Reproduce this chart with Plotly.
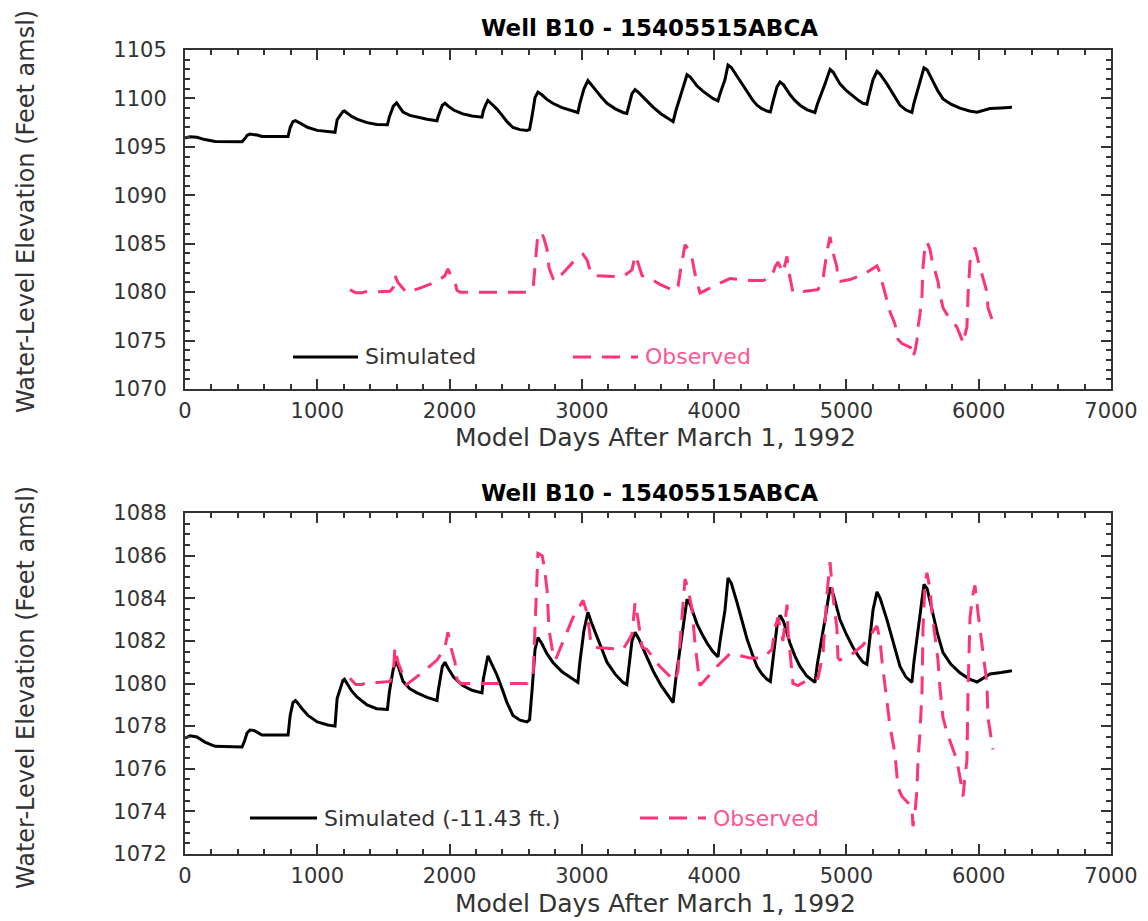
import plotly.graph_objects as go

# ---------------- data ----------------
# Simulated water level, model output (feet above mean sea level)
sim_days = [0, 40, 90, 150, 227, 431, 450, 469, 491, 520,
            544, 582, 779, 795, 816, 835, 850, 880, 930, 1000,
            1080, 1134, 1150, 1194, 1205, 1225, 1260, 1300, 1376, 1450,
            1530, 1545, 1575, 1600, 1620, 1648, 1700, 1754, 1830, 1905,
            1915, 1945, 1965, 1990, 2030, 2100, 2170, 2245, 2255, 2275,
            2290, 2320, 2358, 2400, 2434, 2479, 2532, 2585, 2605, 2625,
            2646, 2668, 2695, 2736, 2780, 2850, 2920, 2970, 2985, 3016,
            3046, 3070, 3114, 3150, 3190, 3250, 3311, 3340, 3355, 3379,
            3402, 3430, 3480, 3538, 3600, 3666, 3690, 3710, 3765, 3795,
            3820, 3870, 3910, 3946, 3990, 4029, 4045, 4082, 4105, 4130,
            4173, 4210, 4248, 4290, 4324, 4360, 4399, 4425, 4445, 4475,
            4498, 4525, 4573, 4610, 4649, 4700, 4762, 4780, 4838, 4876,
            4900, 4951, 5000, 5049, 5090, 5125, 5155, 5170, 5201, 5231,
            5255, 5306, 5350, 5405, 5450, 5495, 5510, 5541, 5586, 5610,
            5654, 5690, 5730, 5790, 5858, 5930, 5987, 6030, 6085, 6170,
            6251]

sim_elev = [1095.94, 1096.05, 1095.99, 1095.75, 1095.55, 1095.52, 1095.80, 1096.18, 1096.32, 1096.30,
            1096.22, 1096.08, 1096.08, 1097.00, 1097.60, 1097.70, 1097.60, 1097.35, 1097.00, 1096.70,
            1096.55, 1096.50, 1097.80, 1098.65, 1098.70, 1098.50, 1098.15, 1097.87, 1097.50, 1097.32,
            1097.28, 1098.10, 1099.20, 1099.55, 1099.10, 1098.60, 1098.25, 1098.06, 1097.85, 1097.70,
            1098.20, 1099.30, 1099.50, 1099.20, 1098.80, 1098.40, 1098.18, 1098.06, 1098.70, 1099.40,
            1099.80, 1099.40, 1098.90, 1098.20, 1097.60, 1097.00, 1096.78, 1096.70, 1096.80, 1098.30,
            1100.10, 1100.65, 1100.40, 1099.90, 1099.50, 1099.05, 1098.75, 1098.55, 1099.50, 1101.00,
            1101.85, 1101.40, 1100.70, 1100.10, 1099.50, 1098.95, 1098.55, 1098.45, 1099.30, 1100.50,
            1100.90, 1100.60, 1099.90, 1099.10, 1098.40, 1097.80, 1097.60, 1098.70, 1101.20, 1102.45,
            1102.20, 1101.30, 1100.80, 1100.40, 1100.00, 1099.75, 1100.50, 1101.95, 1103.45, 1103.20,
            1102.30, 1101.40, 1100.60, 1099.85, 1099.30, 1098.95, 1098.70, 1098.60, 1099.70, 1101.20,
            1101.70, 1101.40, 1100.40, 1099.80, 1099.30, 1098.85, 1098.55, 1099.40, 1101.50, 1103.00,
            1102.70, 1101.50, 1100.80, 1100.20, 1099.80, 1099.50, 1099.40, 1100.30, 1101.95, 1102.80,
            1102.50, 1101.50, 1100.50, 1099.30, 1098.80, 1098.55, 1099.50, 1101.00, 1103.15, 1102.95,
            1101.80, 1100.80, 1099.95, 1099.40, 1099.00, 1098.70, 1098.57, 1098.75, 1098.95, 1099.02,
            1099.10]

# Simulated water level after the datum adjustment shown in the lower panel
sim_adj_elev = [1077.44, 1077.55, 1077.49, 1077.25, 1077.05, 1077.02, 1077.30, 1077.68, 1077.82, 1077.80,
                1077.72, 1077.58, 1077.58, 1078.50, 1079.10, 1079.20, 1079.10, 1078.85, 1078.50, 1078.20,
                1078.05, 1078.00, 1079.30, 1080.15, 1080.20, 1080.00, 1079.65, 1079.37, 1079.00, 1078.82,
                1078.78, 1079.60, 1080.70, 1081.05, 1080.60, 1080.10, 1079.75, 1079.56, 1079.35, 1079.20,
                1079.70, 1080.80, 1081.00, 1080.70, 1080.30, 1079.90, 1079.68, 1079.56, 1080.20, 1080.90,
                1081.30, 1080.90, 1080.40, 1079.70, 1079.10, 1078.50, 1078.28, 1078.20, 1078.30, 1079.80,
                1081.60, 1082.15, 1081.90, 1081.40, 1081.00, 1080.55, 1080.25, 1080.05, 1081.00, 1082.50,
                1083.35, 1082.90, 1082.20, 1081.60, 1081.00, 1080.45, 1080.05, 1079.95, 1080.80, 1082.00,
                1082.40, 1082.10, 1081.40, 1080.60, 1079.90, 1079.30, 1079.10, 1080.20, 1082.70, 1083.95,
                1083.70, 1082.80, 1082.30, 1081.90, 1081.50, 1081.25, 1082.00, 1083.45, 1084.95, 1084.70,
                1083.80, 1082.90, 1082.10, 1081.35, 1080.80, 1080.45, 1080.20, 1080.10, 1081.20, 1082.70,
                1083.20, 1082.90, 1081.90, 1081.30, 1080.80, 1080.35, 1080.05, 1080.90, 1083.00, 1084.50,
                1084.20, 1083.00, 1082.30, 1081.70, 1081.30, 1081.00, 1080.90, 1081.80, 1083.45, 1084.30,
                1084.00, 1083.00, 1082.00, 1080.80, 1080.30, 1080.05, 1081.00, 1082.50, 1084.65, 1084.45,
                1083.30, 1082.30, 1081.45, 1080.90, 1080.50, 1080.20, 1080.07, 1080.25, 1080.45, 1080.52,
                1080.60]

# Observed water level in the well
obs_days = [1247, 1290, 1340, 1365, 1459, 1550, 1575, 1587, 1610, 1663, 1675, 1791,
            1905, 1965, 1988, 2010, 2041, 2056, 2080, 2479, 2585, 2631, 2650, 2668,
            2700, 2715, 2737, 2752, 2782, 2800, 2933, 3009, 3040, 3069, 3084, 3311,
            3379, 3402, 3425, 3455, 3492, 3590, 3704, 3727, 3750, 3765, 3780, 3800,
            3833, 3855, 3878, 3893, 4021, 4120, 4196, 4271, 4369, 4437, 4460, 4483,
            4520, 4551, 4558, 4573, 4596, 4634, 4687, 4785, 4823, 4853, 4876, 4898,
            4928, 4936, 4951, 5027, 5125, 5231, 5254, 5270, 5306, 5329, 5367, 5390,
            5420, 5495, 5503, 5518, 5533, 5541, 5556, 5571, 5579, 5594, 5609, 5632,
            5647, 5669, 5692, 5707, 5730, 5760, 5798, 5835, 5873, 5881, 5896, 5911,
            5919, 5934, 5957, 5972, 5995, 6025, 6062, 6070, 6108]

obs_elev = [1080.25, 1079.95, 1079.95, 1080.05, 1080.05, 1080.10, 1080.50, 1081.70,
            1081.00, 1080.10, 1079.95, 1080.50, 1081.10, 1081.70, 1082.40, 1081.70,
            1081.00, 1080.20, 1080.00, 1080.00, 1080.00, 1080.30, 1083.00, 1086.10,
            1086.00, 1085.50, 1084.40, 1082.50, 1081.40, 1081.10, 1083.10, 1083.90,
            1083.30, 1081.90, 1081.70, 1081.60, 1082.30, 1083.80, 1083.00, 1081.70,
            1081.60, 1080.80, 1080.10, 1080.60, 1082.60, 1083.80, 1084.90, 1084.50,
            1083.50, 1081.90, 1080.80, 1079.90, 1080.80, 1081.40, 1081.30, 1081.20,
            1081.20, 1081.60, 1082.60, 1083.10, 1082.00, 1083.70, 1082.50, 1081.60,
            1080.00, 1079.90, 1080.10, 1080.25, 1081.40, 1084.20, 1085.70, 1084.10,
            1082.60, 1081.20, 1081.10, 1081.30, 1081.80, 1082.70, 1082.00, 1081.00,
            1079.20, 1078.00, 1076.70, 1075.10, 1074.70, 1074.20, 1073.30, 1073.90,
            1075.00, 1076.40, 1077.70, 1079.60, 1082.60, 1084.70, 1085.20, 1084.40,
            1083.30, 1082.20, 1081.10, 1079.80, 1078.40, 1077.70, 1077.00, 1076.40,
            1075.10, 1074.70, 1075.60, 1076.40, 1079.60, 1083.10, 1084.20, 1084.60,
            1083.30, 1081.70, 1080.00, 1078.40, 1076.90]

panel_title = "Well B10 - 15405515ABCA"
x_title = "Model Days After March 1, 1992"
y_title = "Water-Level Elevation (Feet amsl)"
sim_label_top = "Simulated"
sim_label_bottom = "Simulated (-11.43 ft.)"
obs_label = "Observed"

# ---------------- styling ----------------
W, H = 1148, 921
FONT = "DejaVu Sans"
SIM_COLOR = "black"
OBS_COLOR = "#ff3377"
OBS_TEXT = "#ff5591"
AXIS_COLOR = "#333333"
DASH = "18px,11px"


def fx(px):
    return px / W


def fy(px):
    return 1 - px / H


fig = go.Figure()

fig.add_trace(go.Scatter(x=sim_days, y=sim_elev, mode="lines",
                         line=dict(color=SIM_COLOR, width=3),
                         xaxis="x", yaxis="y", showlegend=False))
fig.add_trace(go.Scatter(x=obs_days, y=obs_elev, mode="lines",
                         line=dict(color=OBS_COLOR, width=3, dash=DASH),
                         xaxis="x", yaxis="y", showlegend=False))
fig.add_trace(go.Scatter(x=sim_days, y=sim_adj_elev, mode="lines",
                         line=dict(color=SIM_COLOR, width=3),
                         xaxis="x2", yaxis="y2", showlegend=False))
fig.add_trace(go.Scatter(x=obs_days, y=obs_elev, mode="lines",
                         line=dict(color=OBS_COLOR, width=3, dash=DASH),
                         xaxis="x2", yaxis="y2", showlegend=False))

tick_font = dict(family=FONT, size=21, color=AXIS_COLOR)
common_axis = dict(showline=True, linecolor=AXIS_COLOR, linewidth=2,
                   mirror="allticks", ticks="inside", ticklen=10, tickwidth=1.5,
                   tickcolor=AXIS_COLOR, showgrid=False, zeroline=False,
                   tickfont=tick_font, automargin=False, fixedrange=True)

x_common = dict(common_axis, range=[0, 7000], tick0=0, dtick=1000,
                domain=[fx(185), fx(1111)], ticklabelstandoff=2,
                minor=dict(ticks="inside", ticklen=5, tickwidth=1.5,
                           tickcolor=AXIS_COLOR, dtick=200, tick0=0))

y_minor = dict(ticks="inside", ticklen=5, tickwidth=1.5, tickcolor=AXIS_COLOR)

fig.update_layout(
    width=W, height=H,
    margin=dict(l=0, r=0, t=0, b=0),
    paper_bgcolor="white", plot_bgcolor="white",
    xaxis=dict(x_common, anchor="y"),
    yaxis=dict(common_axis, range=[1070, 1105], tick0=1070, dtick=5,
               domain=[fy(389), fy(50)], anchor="x", ticklabelstandoff=12,
               minor=dict(y_minor, dtick=1, tick0=1070)),
    xaxis2=dict(x_common, anchor="y2"),
    yaxis2=dict(common_axis, range=[1072, 1088], tick0=1072, dtick=2,
                domain=[fy(854), fy(513)], anchor="x2", ticklabelstandoff=12,
                minor=dict(y_minor, dtick=0.5, tick0=1072)),
    showlegend=False,
)

annotations = []
shapes = []

panels = [
    # title y, x-title y, y-title centre, legend y, sim legend segment, sim label, obs legend segment
    (28, 437, 212, 357, (293, 358), sim_label_top, (573, 638)),
    (493, 903, 688, 818, (250, 317), sim_label_bottom, (640, 706)),
]

for t_y, xt_y, yt_y, leg_y, sim_seg, sim_label, obs_seg in panels:
    annotations.append(dict(text="<b>" + panel_title + "</b>", x=fx(649), y=fy(t_y),
                            xref="paper", yref="paper", showarrow=False,
                            xanchor="center", yanchor="middle",
                            font=dict(family=FONT, size=23, color="black")))
    annotations.append(dict(text=x_title, x=fx(655), y=fy(xt_y),
                            xref="paper", yref="paper", showarrow=False,
                            xanchor="center", yanchor="middle",
                            font=dict(family=FONT, size=25, color=AXIS_COLOR)))
    annotations.append(dict(text=y_title, x=fx(26), y=fy(yt_y), textangle=-90,
                            xref="paper", yref="paper", showarrow=False,
                            xanchor="center", yanchor="middle",
                            font=dict(family=FONT, size=24, color=AXIS_COLOR)))
    # legend entries
    shapes.append(dict(type="line", xref="paper", yref="paper",
                       x0=fx(sim_seg[0]), x1=fx(sim_seg[1]), y0=fy(leg_y), y1=fy(leg_y),
                       line=dict(color=SIM_COLOR, width=3)))
    annotations.append(dict(text=sim_label, x=fx(sim_seg[1] + 5), y=fy(leg_y),
                            xref="paper", yref="paper", showarrow=False,
                            xanchor="left", yanchor="middle",
                            font=dict(family=FONT, size=22, color=AXIS_COLOR)))
    shapes.append(dict(type="line", xref="paper", yref="paper",
                       x0=fx(obs_seg[0]), x1=fx(obs_seg[1]), y0=fy(leg_y), y1=fy(leg_y),
                       line=dict(color=OBS_COLOR, width=3, dash=DASH)))
    annotations.append(dict(text=obs_label, x=fx(obs_seg[1] + 5), y=fy(leg_y),
                            xref="paper", yref="paper", showarrow=False,
                            xanchor="left", yanchor="middle",
                            font=dict(family=FONT, size=22, color=OBS_TEXT)))

fig.update_layout(annotations=annotations, shapes=shapes)

fig.write_html("out.html")
